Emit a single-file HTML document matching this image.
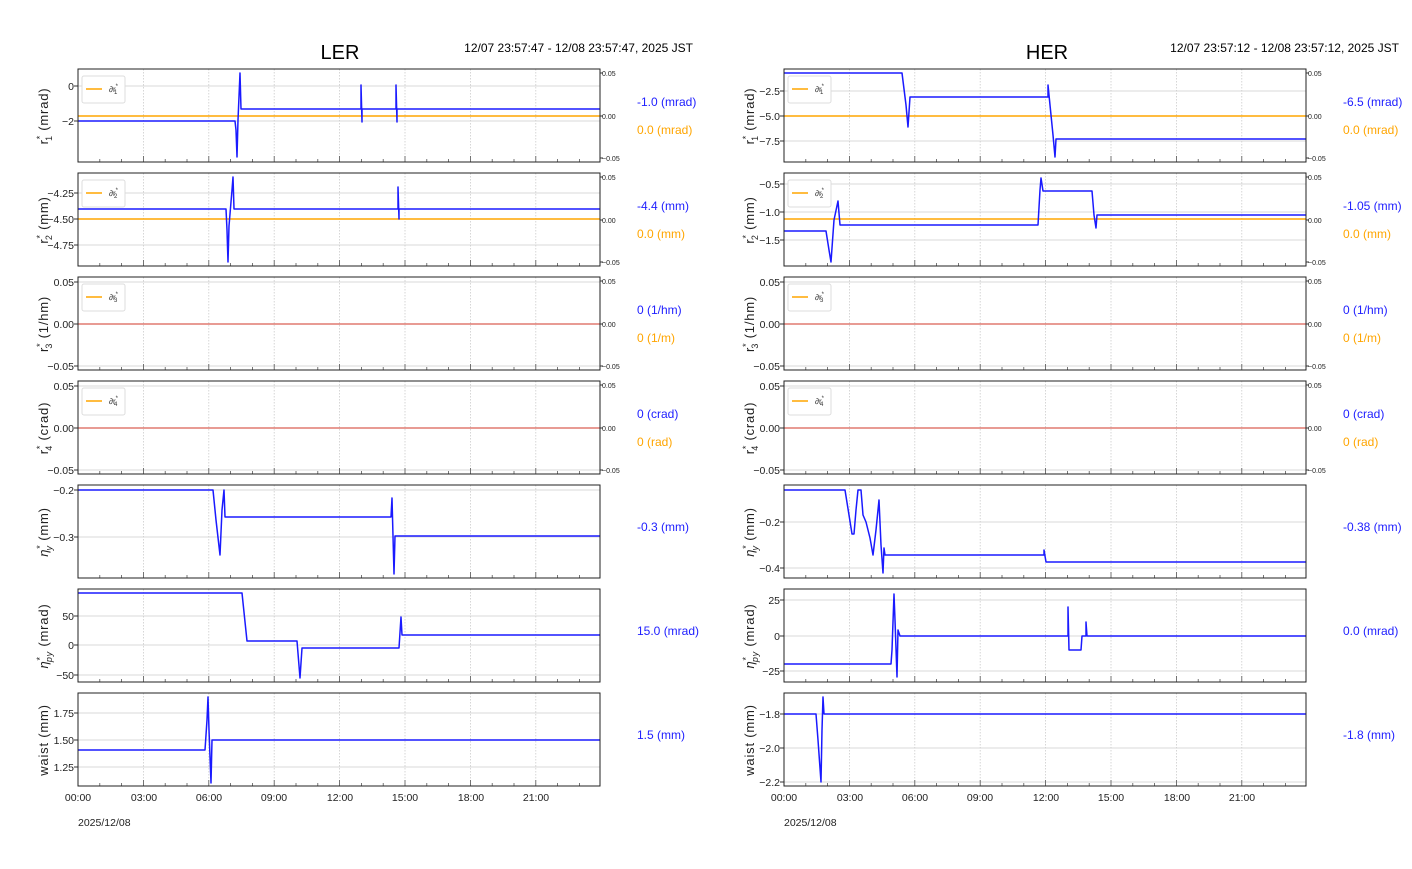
<!DOCTYPE html>
<html><head><meta charset="utf-8"><style>
body{margin:0;background:#fff;width:1412px;height:864px;overflow:hidden}
svg text{font-family:"Liberation Sans",sans-serif}
.t{font-size:10.5px;fill:#222}
.tr{font-size:7px;fill:#222}
.yl{font-family:"DejaVu Sans",sans-serif !important;font-size:13px;fill:#222;letter-spacing:0.8px}
.bl{font-size:12px;fill:#2020ff}
.or{font-size:12px;fill:#ffa500}
.lg{font-size:8px;fill:#333}
</style></head><body>
<svg id="s" width="1412" height="864" xmlns="http://www.w3.org/2000/svg">
<g id="grid"></g>
<text x="340" y="59" text-anchor="middle" style="font-size:20px">LER</text>
<text x="693" y="52" text-anchor="end" style="font-size:12px">12/07 23:57:47 - 12/08 23:57:47, 2025 JST</text>
<text x="1047" y="59" text-anchor="middle" style="font-size:20px">HER</text>
<text x="1399" y="52" text-anchor="end" style="font-size:12px">12/07 23:57:12 - 12/08 23:57:12, 2025 JST</text>

<g class="t" text-anchor="end">
<text x="74" y="90">0</text><text x="74" y="125">−2</text>
<text x="74" y="197">−4.25</text><text x="74" y="223">−4.50</text><text x="74" y="249">−4.75</text>
<text x="74" y="286">0.05</text><text x="74" y="328">0.00</text><text x="74" y="370">−0.05</text>
<text x="74" y="390">0.05</text><text x="74" y="432">0.00</text><text x="74" y="474">−0.05</text>
<text x="74" y="494">−0.2</text><text x="74" y="541">−0.3</text>
<text x="74" y="620">50</text><text x="74" y="649">0</text><text x="74" y="679">−50</text>
<text x="74" y="717">1.75</text><text x="74" y="744">1.50</text><text x="74" y="771">1.25</text>
</g>
<g class="t" text-anchor="end">
<text x="780" y="95">−2.5</text><text x="780" y="120">−5.0</text><text x="780" y="145">−7.5</text>
<text x="780" y="188">−0.5</text><text x="780" y="216">−1.0</text><text x="780" y="244">−1.5</text>
<text x="780" y="286">0.05</text><text x="780" y="328">0.00</text><text x="780" y="370">−0.05</text>
<text x="780" y="390">0.05</text><text x="780" y="432">0.00</text><text x="780" y="474">−0.05</text>
<text x="780" y="526">−0.2</text><text x="780" y="572">−0.4</text>
<text x="780" y="604">25</text><text x="780" y="640">0</text><text x="780" y="675">−25</text>
<text x="780" y="718">−1.8</text><text x="780" y="752">−2.0</text><text x="780" y="786">−2.2</text>
</g>
<g class="tr">
<text x="602" y="76">0.05</text><text x="602" y="119">0.00</text><text x="602" y="161">−0.05</text>
<text x="602" y="180">0.05</text><text x="602" y="223">0.00</text><text x="602" y="265">−0.05</text>
<text x="602" y="284">0.05</text><text x="602" y="327">0.00</text><text x="602" y="369">−0.05</text>
<text x="602" y="388">0.05</text><text x="602" y="431">0.00</text><text x="602" y="473">−0.05</text>
<text x="1308" y="76">0.05</text><text x="1308" y="119">0.00</text><text x="1308" y="161">−0.05</text>
<text x="1308" y="180">0.05</text><text x="1308" y="223">0.00</text><text x="1308" y="265">−0.05</text>
<text x="1308" y="284">0.05</text><text x="1308" y="327">0.00</text><text x="1308" y="369">−0.05</text>
<text x="1308" y="388">0.05</text><text x="1308" y="431">0.00</text><text x="1308" y="473">−0.05</text>
</g>
<g class="yl" text-anchor="middle">
<text transform="translate(48,116) rotate(-90)">r<tspan dy="-5" font-size="9">*</tspan><tspan dy="9" dx="-6" font-size="9">1</tspan><tspan dy="-4"> (mrad)</tspan></text>
<text transform="translate(48,220) rotate(-90)">r<tspan dy="-5" font-size="9">*</tspan><tspan dy="9" dx="-6" font-size="9">2</tspan><tspan dy="-4"> (mm)</tspan></text>
<text transform="translate(48,324) rotate(-90)">r<tspan dy="-5" font-size="9">*</tspan><tspan dy="9" dx="-6" font-size="9">3</tspan><tspan dy="-4"> (1/hm)</tspan></text>
<text transform="translate(48,428) rotate(-90)">r<tspan dy="-5" font-size="9">*</tspan><tspan dy="9" dx="-6" font-size="9">4</tspan><tspan dy="-4"> (crad)</tspan></text>
<text transform="translate(48,532) rotate(-90)"><tspan font-style="italic">η</tspan><tspan dy="-5" font-size="9">*</tspan><tspan dy="9" dx="-6" font-size="9" font-style="italic">y</tspan><tspan dy="-4"> (mm)</tspan></text>
<text transform="translate(48,636) rotate(-90)"><tspan font-style="italic">η</tspan><tspan dy="-5" font-size="9">*</tspan><tspan dy="9" dx="-6" font-size="9" font-style="italic">py</tspan><tspan dy="-4"> (mrad)</tspan></text>
<text transform="translate(48,740) rotate(-90)">waist (mm)</text>
<text transform="translate(754,116) rotate(-90)">r<tspan dy="-5" font-size="9">*</tspan><tspan dy="9" dx="-6" font-size="9">1</tspan><tspan dy="-4"> (mrad)</tspan></text>
<text transform="translate(754,220) rotate(-90)">r<tspan dy="-5" font-size="9">*</tspan><tspan dy="9" dx="-6" font-size="9">2</tspan><tspan dy="-4"> (mm)</tspan></text>
<text transform="translate(754,324) rotate(-90)">r<tspan dy="-5" font-size="9">*</tspan><tspan dy="9" dx="-6" font-size="9">3</tspan><tspan dy="-4"> (1/hm)</tspan></text>
<text transform="translate(754,428) rotate(-90)">r<tspan dy="-5" font-size="9">*</tspan><tspan dy="9" dx="-6" font-size="9">4</tspan><tspan dy="-4"> (crad)</tspan></text>
<text transform="translate(754,532) rotate(-90)"><tspan font-style="italic">η</tspan><tspan dy="-5" font-size="9">*</tspan><tspan dy="9" dx="-6" font-size="9" font-style="italic">y</tspan><tspan dy="-4"> (mm)</tspan></text>
<text transform="translate(754,636) rotate(-90)"><tspan font-style="italic">η</tspan><tspan dy="-5" font-size="9">*</tspan><tspan dy="9" dx="-6" font-size="9" font-style="italic">py</tspan><tspan dy="-4"> (mrad)</tspan></text>
<text transform="translate(754,740) rotate(-90)">waist (mm)</text>
</g>
<text class="bl" x="637" y="106">-1.0 (mrad)</text><text class="or" x="637" y="134">0.0 (mrad)</text>
<text class="bl" x="637" y="210">-4.4 (mm)</text><text class="or" x="637" y="238">0.0 (mm)</text>
<text class="bl" x="637" y="314">0 (1/hm)</text><text class="or" x="637" y="342">0 (1/m)</text>
<text class="bl" x="637" y="418">0 (crad)</text><text class="or" x="637" y="446">0 (rad)</text>
<text class="bl" x="637" y="531">-0.3 (mm)</text>
<text class="bl" x="637" y="635">15.0 (mrad)</text>
<text class="bl" x="637" y="739">1.5 (mm)</text>
<text class="bl" x="1343" y="106">-6.5 (mrad)</text><text class="or" x="1343" y="134">0.0 (mrad)</text>
<text class="bl" x="1343" y="210">-1.05 (mm)</text><text class="or" x="1343" y="238">0.0 (mm)</text>
<text class="bl" x="1343" y="314">0 (1/hm)</text><text class="or" x="1343" y="342">0 (1/m)</text>
<text class="bl" x="1343" y="418">0 (crad)</text><text class="or" x="1343" y="446">0 (rad)</text>
<text class="bl" x="1343" y="531">-0.38 (mm)</text>
<text class="bl" x="1343" y="635">0.0 (mrad)</text>
<text class="bl" x="1343" y="739">-1.8 (mm)</text>
<g class="t" text-anchor="middle">
<text x="78" y="801">00:00</text><text x="144" y="801">03:00</text><text x="209" y="801">06:00</text><text x="274" y="801">09:00</text><text x="340" y="801">12:00</text><text x="405" y="801">15:00</text><text x="471" y="801">18:00</text><text x="536" y="801">21:00</text>
<text x="784" y="801">00:00</text><text x="850" y="801">03:00</text><text x="915" y="801">06:00</text><text x="980" y="801">09:00</text><text x="1046" y="801">12:00</text><text x="1111" y="801">15:00</text><text x="1177" y="801">18:00</text><text x="1242" y="801">21:00</text>
</g>
<text class="t" x="78" y="826">2025/12/08</text>
<text class="t" x="784" y="826">2025/12/08</text>
<g id="leg"></g>
<g class="lg">
<text x="109" y="92">∂r<tspan dy="-4" font-size="6">*</tspan><tspan dy="6" dx="-4" font-size="6">1</tspan></text>
<text x="109" y="196">∂r<tspan dy="-4" font-size="6">*</tspan><tspan dy="6" dx="-4" font-size="6">2</tspan></text>
<text x="109" y="300">∂r<tspan dy="-4" font-size="6">*</tspan><tspan dy="6" dx="-4" font-size="6">3</tspan></text>
<text x="109" y="404">∂r<tspan dy="-4" font-size="6">*</tspan><tspan dy="6" dx="-4" font-size="6">4</tspan></text>
<text x="815" y="92">∂r<tspan dy="-4" font-size="6">*</tspan><tspan dy="6" dx="-4" font-size="6">1</tspan></text>
<text x="815" y="196">∂r<tspan dy="-4" font-size="6">*</tspan><tspan dy="6" dx="-4" font-size="6">2</tspan></text>
<text x="815" y="300">∂r<tspan dy="-4" font-size="6">*</tspan><tspan dy="6" dx="-4" font-size="6">3</tspan></text>
<text x="815" y="404">∂r<tspan dy="-4" font-size="6">*</tspan><tspan dy="6" dx="-4" font-size="6">4</tspan></text>
</g>
<g fill="none" stroke-width="1.5" stroke-linejoin="round">
<g stroke="#ffa500"><path d="M78 116H600M78 219H600M784 116H1306M784 219H1306"/></g>
<g stroke="#e07a70"><path d="M78 324H600M78 428H600M784 324H1306M784 428H1306"/></g>
<g stroke="#1a1aff">
<polyline points="78,121 235,121 236,130 237,157 238,120 240,73 241,109 361,109 361,85 362,122 362,109 396,109 396,85 397,122 397,109 600,109"/>
<polyline points="78,209 226,209 227,230 228,262 229,226 232,190 233,177 234,209 398,209 398,187 399,219 399,209 600,209"/>
<polyline points="78,490 213,490 216,520 220,555 222,510 224,490 225,517 391,517 392,498 394,574 395,536 600,536"/>
<polyline points="78,593 242,593 247,641 297,641 300,678 302,648 399,648 401,617 402,635 600,635"/>
<polyline points="78,750 205,750 207,720 208,697 209,730 211,783 212,740 600,740"/>
<polyline points="784,73 902,73 906,105 908,127 910,97 1048,97 1048,85 1050,105 1053,135 1055,157 1056,139 1306,139"/>
<polyline points="784,231 826,231 829,250 831,262 834,220 838,201 840,225 1038,225 1040,190 1041,178 1043,191 1092,191 1094,215 1096,228 1097,215 1306,215"/>
<polyline points="784,490 845,490 849,515 852,534 854,534 856,510 858,490 861,490 863,515 866,522 870,538 873,555 876,530 879,500 881,545 883,573 884,548 885,555 1044,555 1044,550 1046,562 1306,562"/>
<polyline points="784,664 891,664 892,650 894,594 895,620 897,677 898,630 900,636 1068,636 1068,607 1069,650 1081,650 1082,636 1086,636 1086,622 1087,636 1306,636"/>
<polyline points="784,714 816,714 818,740 821,782 822,730 823,697 824,714 1306,714"/>
</g>
</g>
<g id="frames"></g>
</svg>
<script>
var ns="http://www.w3.org/2000/svg",g=document.getElementById('grid'),f=document.getElementById('frames'),lg=document.getElementById('leg');
function el(p,t,a){var e=document.createElementNS(ns,t);for(var k in a)e.setAttribute(k,a[k]);p.appendChild(e);return e;}
var tops=[69,173,277,381,485,589,693];
var yt={0:[[86,121],[193,219,245],[282,324,366],[386,428,470],[490,537],[616,645,675],[713,740,767]],
706:[[91,116,141],[184,212,240],[282,324,366],[386,428,470],[522,568],[600,636,671],[714,748,782]]};
[0,706].forEach(function(o){
 tops.forEach(function(t,i){
  var L=78+o,R=600+o,B=t+93;
  for(var k=1;k<8;k++){var x=L+k*65.4;el(g,'line',{x1:x,x2:x,y1:t,y2:B,stroke:'#ccc','stroke-dasharray':'1.5,1.5','stroke-width':0.8});}
  yt[o][i].forEach(function(y){el(g,'line',{x1:L,x2:R,y1:y,y2:y,stroke:'#ccc','stroke-width':0.8});el(f,'line',{x1:L-4,x2:L,y1:y,y2:y,stroke:'#333'});});
  for(var h=0;h<24;h++){var x=L+h*21.8,len=(h%3==0)?6:3;el(f,'line',{x1:x,x2:x,y1:B,y2:B-len,stroke:'#555','stroke-width':0.8});}
  el(f,'rect',{x:L,y:t,width:R-L,height:93,fill:'none',stroke:'#222','stroke-width':1});
  if(i<4){[4,47,89].forEach(function(d){el(f,'line',{x1:R,x2:R+3,y1:t+d,y2:t+d,stroke:'#333'});});
   el(lg,'rect',{x:L+4,y:t+7,width:43,height:27,fill:'#fff',stroke:'#ddd',rx:2});
   el(lg,'line',{x1:L+8,x2:L+24,y1:t+20,y2:t+20,stroke:'#ffa500','stroke-width':1.5});}
 });
});
</script>
</body></html>
